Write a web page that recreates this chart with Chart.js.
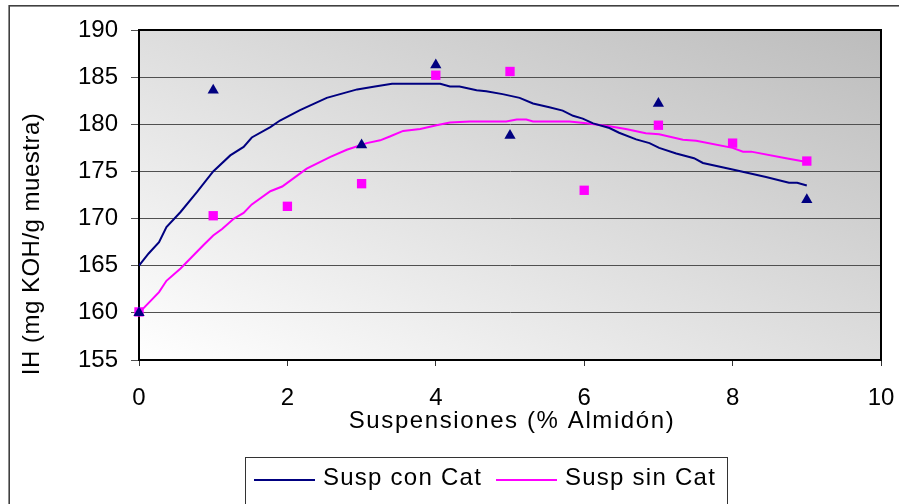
<!DOCTYPE html>
<html>
<head>
<meta charset="utf-8">
<script src="https://cdn.jsdelivr.net/npm/chart.js@4.4.1/dist/chart.umd.min.js"></script>
<style>
  html, body { margin: 0; padding: 0; background: #ffffff; }
  canvas { display: block; }
</style>
</head>
<body>
<canvas id="chart" width="899" height="504"></canvas>
<script>
// Measured IH values (mg KOH/g muestra) per starch suspension (% Almidón)
const conCatX  = [0, 1, 3, 4, 5, 7, 9];
const conCatIH = [160.0, 183.6, 177.8, 186.3, 178.8, 182.2, 172.0];

const sinCatX  = [0, 1, 2, 3, 4, 5, 6, 7, 8, 9];
const sinCatIH = [160.1, 170.3, 171.3, 173.7, 185.2, 185.6, 173.0, 179.9, 178.0, 176.1];

// Fitted trend curves
const conCatCurveX  = [0, 0.13, 0.27, 0.37, 0.56, 0.78, 1.0, 1.23, 1.41, 1.52, 1.77, 1.9, 2.17, 2.53, 2.94, 3.18, 3.41,
                       4.06, 4.19, 4.32, 4.55, 4.68, 4.9, 5.13, 5.31, 5.53, 5.71, 5.85, 5.98, 6.12, 6.34, 6.47, 6.7,
                       6.88, 7.01, 7.24, 7.48, 7.6, 8.0, 8.45, 8.76, 8.87, 9.0];
const conCatCurveIH = [165.0, 166.3, 167.5, 169.1, 170.7, 172.8, 175.0, 176.7, 177.6, 178.6, 179.7, 180.4, 181.5, 182.8,
                       183.7, 184.0, 184.3, 184.3, 184.0, 184.0, 183.6, 183.5, 183.2, 182.8, 182.2, 181.8, 181.45,
                       180.9, 180.6, 180.1, 179.6, 179.1, 178.4, 178.0, 177.5, 176.9, 176.4, 175.9, 175.2, 174.4,
                       173.8, 173.8, 173.5];

const sinCatCurveX  = [0, 0.27, 0.37, 0.56, 0.87, 1.0, 1.12, 1.28, 1.41, 1.52, 1.77, 1.93, 2.26, 2.58, 2.8, 3.07, 3.25,
                       3.38, 3.56, 3.79, 4.01, 4.19, 4.46, 4.95, 5.09, 5.22, 5.31, 5.8, 6.03, 6.34, 6.56, 6.83, 7.01,
                       7.33, 7.51, 8.0, 8.14, 8.25, 8.72, 9.0];
const sinCatCurveIH = [160.0, 162.2, 163.4, 164.7, 167.2, 168.2, 168.9, 170.0, 170.6, 171.5, 172.9, 173.4, 175.3, 176.55,
                       177.3, 178.0, 178.3, 178.7, 179.3, 179.5, 179.9, 180.2, 180.3, 180.3, 180.5, 180.5, 180.3, 180.3,
                       180.1, 179.8, 179.5, 179.05, 178.95, 178.35, 178.25, 177.5, 177.1, 177.1, 176.4, 176.0];

const seriesNames = ['Susp con Cat', 'Susp sin Cat'];
const xTitle = 'Suspensiones (% Almidón)';
const yTitle = 'IH (mg KOH/g muestra)';

const NAVY = '#000080';
const MAGENTA = '#ff00ff';
const FONT = '"Liberation Sans", Arial, sans-serif';

const toPoints = (xs, ys) => xs.map((x, i) => ({ x: x, y: ys[i] }));

function spacedText(ctx, text, x, y, spacing) {
  if ('letterSpacing' in ctx) ctx.letterSpacing = spacing + 'px';
  ctx.fillText(text, x, y);
  if ('letterSpacing' in ctx) ctx.letterSpacing = '0px';
}

// Page frame, gradient plot background and plot border
const chartFrame = {
  id: 'chartFrame',
  beforeDraw(chart) {
    const ctx = chart.ctx, a = chart.chartArea;
    ctx.save();
    ctx.fillStyle = '#ffffff';
    ctx.fillRect(0, 0, chart.width, chart.height);
    ctx.strokeStyle = '#404040';
    ctx.lineWidth = 1.6;
    ctx.strokeRect(9.2, 5.8, chart.width + 20, chart.height + 20);

    const w = a.right - a.left, h = a.bottom - a.top;
    const k = 2 * w * h / (w * w + h * h);
    const g = ctx.createLinearGradient(a.left, a.bottom, a.left + h * k, a.bottom - w * k);
    g.addColorStop(0, '#ffffff');
    g.addColorStop(1, '#bcbcbc');
    ctx.fillStyle = g;
    ctx.fillRect(a.left, a.top, w, h);
    ctx.restore();
  },
  beforeDatasetsDraw(chart) {
    const ctx = chart.ctx, a = chart.chartArea;
    ctx.save();
    ctx.strokeStyle = '#000000';
    ctx.lineWidth = 2;
    ctx.strokeRect(a.left, a.top, a.right - a.left, a.bottom - a.top);
    ctx.restore();
  },
  afterDraw(chart) {
    const ctx = chart.ctx, a = chart.chartArea;
    ctx.save();
    ctx.fillStyle = '#000000';
    ctx.font = '24px ' + FONT;
    ctx.textBaseline = 'middle';

    // axis titles
    ctx.textAlign = 'center';
    spacedText(ctx, xTitle, (a.left + a.right) / 2 + 2, 421, 1.6);
    ctx.save();
    ctx.translate(32, 244);
    ctx.rotate(-Math.PI / 2);
    spacedText(ctx, yTitle, 0, 0, 0.5);
    ctx.restore();

    // legend box
    ctx.fillStyle = '#ffffff';
    ctx.fillRect(245.5, 457, 482, 60);
    ctx.strokeStyle = '#333333';
    ctx.lineWidth = 1;
    ctx.strokeRect(245.5, 457.5, 482, 60);

    const entries = chart.data.datasets.filter(d => d.showLine);
    const slots = [254, 496];
    ctx.textAlign = 'left';
    entries.forEach((d, i) => {
      const x0 = slots[i];
      ctx.strokeStyle = d.borderColor;
      ctx.lineWidth = 2;
      ctx.beginPath();
      ctx.moveTo(x0, 480);
      ctx.lineTo(x0 + 61, 480);
      ctx.stroke();
      ctx.fillStyle = '#000000';
      spacedText(ctx, d.label, x0 + 69, 478, 1.25);
    });
    ctx.restore();
  }
};

Chart.defaults.font.family = FONT;
Chart.defaults.color = '#000000';

new Chart(document.getElementById('chart'), {
  type: 'scatter',
  data: {
    datasets: [
      {
        label: seriesNames[0],
        data: toPoints(conCatCurveX, conCatCurveIH),
        showLine: true,
        borderColor: NAVY,
        borderWidth: 2,
        pointRadius: 0,
        tension: 0,
        order: 3
      },
      {
        label: seriesNames[1],
        data: toPoints(sinCatCurveX, sinCatCurveIH),
        showLine: true,
        borderColor: MAGENTA,
        borderWidth: 2,
        pointRadius: 0,
        tension: 0,
        order: 4
      },
      {
        label: seriesNames[0] + ' (datos)',
        data: toPoints(conCatX, conCatIH),
        pointStyle: 'triangle',
        pointRadius: 6.5,
        backgroundColor: NAVY,
        borderColor: NAVY,
        borderWidth: 0,
        clip: false,
        order: 1
      },
      {
        label: seriesNames[1] + ' (datos)',
        data: toPoints(sinCatX, sinCatIH),
        pointStyle: 'rect',
        pointRadius: 6.6,
        backgroundColor: MAGENTA,
        borderColor: MAGENTA,
        borderWidth: 0,
        clip: false,
        order: 2
      }
    ]
  },
  options: {
    responsive: false,
    animation: false,
    devicePixelRatio: 1,
    layout: { padding: { left: 0, right: 18, top: 30, bottom: 94 } },
    plugins: {
      legend: { display: false },
      tooltip: { enabled: false }
    },
    scales: {
      x: {
        type: 'linear',
        min: 0,
        max: 10,
        afterFit: s => { s.height = 50; s.paddingLeft = 0; s.paddingRight = 0; },
        ticks: { stepSize: 2, padding: 18, font: { size: 24 }, color: '#000000' },
        grid: { drawOnChartArea: false, drawTicks: true, tickLength: 6, tickColor: '#333333', tickWidth: 1 },
        border: { display: true, color: '#000000', width: 2 }
      },
      y: {
        min: 155,
        max: 190,
        afterFit: s => { s.width = 139; },
        ticks: { stepSize: 5, padding: 13, font: { size: 24 }, color: '#000000' },
        grid: { color: '#505050', lineWidth: 1, drawTicks: true, tickLength: 8, tickColor: '#505050' },
        border: { display: true, color: '#000000', width: 2 }
      }
    }
  },
  plugins: [chartFrame]
});
</script>
</body>
</html>
